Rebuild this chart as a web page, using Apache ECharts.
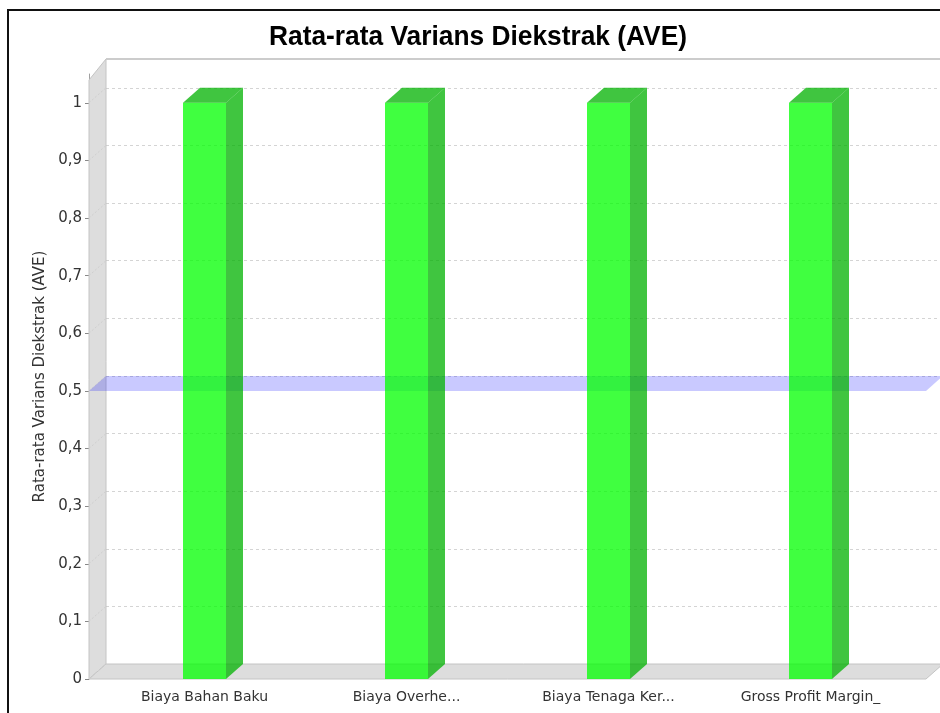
<!DOCTYPE html>
<html>
<head>
<meta charset="utf-8">
<title>Rata-rata Varians Diekstrak (AVE)</title>
<script src="https://cdn.jsdelivr.net/npm/echarts@6/dist/echarts.min.js"></script>
<style>
  html, body { margin: 0; padding: 0; background: #fff; }
  #main { width: 940px; height: 713px; }
</style>
</head>
<body>
<div id="main"></div>
<script>
var categories = ['Biaya Bahan Baku', 'Biaya Overhe...', 'Biaya Tenaga Ker...', 'Gross Profit Margin_'];
var aveValues = [1, 1, 1, 1];
var markerValues = [0.5];
var yTicks = [0, 0.1, 0.2, 0.3, 0.4, 0.5, 0.6, 0.7, 0.8, 0.9, 1];

var myChart = echarts.init(document.getElementById('main'));

var DX = 17, DY = 15;     // kedalaman efek 3D
var AXIS_OFF = 14.5;      // jarak sumbu y dari grid
var BAR_W = 43;

// dinding samping + lantai
function renderWalls (params, api) {
  var cs = params.coordSys;
  var y0 = api.coord([0, 0])[1];
  var xl = cs.x - AXIS_OFF, xr = cs.x + cs.width + AXIS_OFF;
  var topBack = cs.y - DY;
  return {
    type: 'group',
    children: [
      {
        type: 'polygon',
        shape: { points: [[xl, y0], [xl, cs.y + 6], [xl + DX, topBack], [xl + DX, y0 - DY]] },
        style: { fill: '#dddddd', stroke: '#c4c4c4', lineWidth: 1 }
      },
      {
        type: 'polygon',
        shape: { points: [[xl, y0], [xr, y0], [xr + DX, y0 - DY], [xl + DX, y0 - DY]] },
        style: { fill: '#dddddd', stroke: '#c4c4c4', lineWidth: 1 }
      },
      {
        type: 'line',
        shape: { x1: xl + DX, y1: topBack, x2: 960, y2: topBack },
        style: { stroke: '#cccccc', lineWidth: 2 }
      }
    ]
  };
}

// garis miring grid di dinding samping
function renderSideGrid (params, api) {
  var cs = params.coordSys;
  var y = api.coord([0, api.value(1)])[1];
  var xl = cs.x - AXIS_OFF;
  return {
    type: 'line',
    shape: { x1: xl, y1: y, x2: xl + DX, y2: y - DY },
    style: { stroke: '#cfcfcf', lineWidth: 1, lineDash: [2, 2] }
  };
}

// pita marker 0,5
function renderMarker (params, api) {
  var cs = params.coordSys;
  var y = api.coord([0, api.value(1)])[1];
  var xl = cs.x - AXIS_OFF, xr = cs.x + cs.width + AXIS_OFF;
  return {
    type: 'polygon',
    shape: { points: [[xl, y], [xr, y], [xr + DX, y - DY], [xl + DX, y - DY]] },
    style: { fill: 'rgba(0,0,255,0.21)' }
  };
}

// batang 3D
function renderBar (params, api) {
  var top = api.coord([api.value(0), api.value(1)]);
  var base = api.coord([api.value(0), 0]);
  var l = top[0] - BAR_W / 2, r = top[0] + BAR_W / 2, t = top[1], b = base[1];
  return {
    type: 'group',
    children: [
      { type: 'rect', shape: { x: l, y: t, width: r - l, height: b - t }, style: { fill: 'rgba(0,255,0,0.75)' } },
      { type: 'polygon', shape: { points: [[r, t], [r + DX, t - DY], [r + DX, b - DY], [r, b]] }, style: { fill: 'rgba(0,178,0,0.75)' } },
      { type: 'polygon', shape: { points: [[l, t], [l + DX, t - DY], [r + DX, t - DY], [r, t]] }, style: { fill: 'rgba(0,178,0,0.75)' } }
    ]
  };
}

var barData = [];
for (var i = 0; i < categories.length; i++) {
  barData.push([i, aveValues[i]]);
}
var tickData = yTicks.map(function (v) { return [0, v]; });
var markerData = markerValues.map(function (v) { return [0, v]; });

var option = {
  animation: false,
  backgroundColor: '#ffffff',
  graphic: [
    {
      type: 'polyline',
      shape: { points: [[8, 720], [8, 10], [950, 10]] },
      style: { stroke: '#111', lineWidth: 2, fill: null },
      z: 100
    },
    {
      type: 'text',
      x: 478,
      y: 37,
      scaleX: 0.94,
      style: {
        text: 'Rata-rata Varians Diekstrak (AVE)',
        font: 'bold 28px "Liberation Sans", Arial, sans-serif',
        fill: '#000',
        align: 'center',
        verticalAlign: 'middle'
      }
    }
  ],
  grid: [
    { left: 103.5, right: 28.5, top: 74, bottom: 34 },
    { left: 106, right: 0, top: 59, bottom: 49 }
  ],
  xAxis: [
    {
      type: 'category',
      gridIndex: 0,
      data: categories,
      axisLine: { show: false },
      axisTick: { show: false },
      axisLabel: {
        margin: 11,
        color: '#333',
        fontFamily: 'DejaVu Sans',
        fontSize: 14
      }
    },
    { type: 'value', gridIndex: 1, min: 0, max: 1, show: false }
  ],
  yAxis: [
    {
      type: 'value',
      gridIndex: 0,
      min: 0,
      max: 1.05,
      interval: 0.1,
      offset: AXIS_OFF,
      name: 'Rata-rata Varians Diekstrak (AVE)',
      nameLocation: 'middle',
      nameGap: 37,
      nameTextStyle: { color: '#333', fontFamily: 'DejaVu Sans', fontSize: 15 },
      axisLine: { show: true, lineStyle: { color: '#a0a0a0' } },
      axisTick: { show: true, length: 4, lineStyle: { color: '#888' } },
      splitLine: { show: false },
      axisLabel: {
        showMaxLabel: false,
        margin: 7,
        color: '#333',
        fontFamily: 'DejaVu Sans',
        fontSize: 15,
        formatter: function (v) {
          return String(Math.round(v * 10) / 10).replace('.', ',');
        }
      }
    },
    {
      type: 'value',
      gridIndex: 1,
      min: 0,
      max: 1.05,
      interval: 0.1,
      axisLine: { show: false },
      axisTick: { show: false },
      axisLabel: { show: false },
      splitLine: { show: true, lineStyle: { color: '#d4d4d4', type: [3, 3] } }
    }
  ],
  series: [
    { type: 'custom', xAxisIndex: 0, yAxisIndex: 0, z: 1, data: [[0, 0]], encode: { x: 0, y: 1 }, renderItem: renderWalls, silent: true },
    { type: 'custom', xAxisIndex: 0, yAxisIndex: 0, z: 2, data: tickData, encode: { x: 0, y: 1 }, renderItem: renderSideGrid, silent: true },
    { type: 'custom', xAxisIndex: 0, yAxisIndex: 0, z: 3, data: markerData, encode: { x: 0, y: 1 }, renderItem: renderMarker, silent: true },
    { type: 'custom', name: 'AVE', xAxisIndex: 0, yAxisIndex: 0, z: 4, data: barData, encode: { x: 0, y: 1 }, renderItem: renderBar }
  ]
};

myChart.setOption(option);
</script>
</body>
</html>
